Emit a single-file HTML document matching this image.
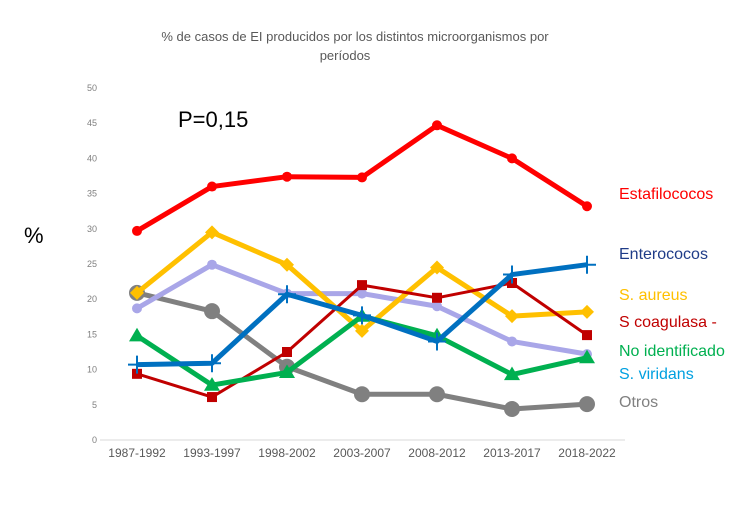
<!DOCTYPE html>
<html><head><meta charset="utf-8"><style>
body{margin:0;background:#fff;width:750px;height:500px;overflow:hidden}
svg text{font-family:"Liberation Sans",sans-serif}
</style></head><body>
<svg id="c" width="750" height="500">
<text x="355" y="41" text-anchor="middle" font-size="13" fill="#595959">% de casos de EI producidos por los distintos microorganismos por</text>
<text x="345" y="60" text-anchor="middle" font-size="13" fill="#595959">períodos</text>
<text x="24" y="243" font-size="22" fill="#000">%</text>
<text x="178" y="127" font-size="22" fill="#000">P=0,15</text>
<g id="axes"></g><g id="series"></g><g id="labels"></g>
</svg>
<script>
const categories=["1987-1992","1993-1997","1998-2002","2003-2007","2008-2012","2013-2017","2018-2022"];
const yTicks=[0,5,10,15,20,25,30,35,40,45,50];
const estafilococos=[29.7,36,37.4,37.3,44.7,40,33.2];
const sAureus=[20.9,29.5,24.9,15.5,24.5,17.6,18.2];
const sViridansLav=[18.7,24.9,20.8,20.8,19,14,12.2];
const otros=[20.9,18.3,10.4,6.5,6.5,4.4,5.1];
const enterococos=[10.7,10.9,20.7,17.7,14,23.5,24.9];
const sCoagulasa=[9.4,6.1,12.5,22,20.2,22.3,14.9];
const noIdentificado=[14.8,7.8,9.6,17.6,14.8,9.3,11.7];
const NS="http://www.w3.org/2000/svg";
const x=i=>137+i*75, y=v=>440-v*7.04;
function mk(t,a,p){const e=document.createElementNS(NS,t);for(const k in a)e.setAttribute(k,a[k]);p.appendChild(e);return e;}
const ax=document.getElementById('axes');
const base=mk('line',{x1:100,x2:625,y1:y(0),y2:y(0),stroke:'#d9d9d9'},ax);


yTicks.forEach(t=>{const e=mk('text',{x:97,y:y(t)+3,'text-anchor':'end','font-size':9,fill:'#7f7f7f'},ax);e.textContent=t;

});
categories.forEach((c,i)=>{const e=mk('text',{x:x(i),y:457,'text-anchor':'middle','font-size':12,fill:'#595959'},ax);e.textContent=c;

});
const S=[
{d:otros,c:'#808080',w:5,m:'circle',r:8,n:'otros'},
{d:sViridansLav,c:'#a9a6e8',w:5,m:'circle',r:5,n:'s-viridans'},
{d:sAureus,c:'#ffc000',w:5,m:'diamond',r:7,n:'s-aureus'},
{d:sCoagulasa,c:'#c00000',w:3,m:'square',r:5,n:'s-coagulasa'},
{d:noIdentificado,c:'#00b050',w:5,m:'triangle',r:8,n:'no-identificado'},
{d:enterococos,c:'#0070c0',w:5,m:'plus',r:9,n:'enterococos'},
{d:estafilococos,c:'#ff0000',w:5,m:'circle',r:5,n:'estafilococos'}];
const sg=document.getElementById('series');
S.forEach(s=>{const g=mk('g',{},sg);


mk('polyline',{points:s.d.map((v,i)=>x(i)+','+y(v)).join(' '),fill:'none',stroke:s.c,'stroke-width':s.w,'stroke-linejoin':'round'},g);
s.d.forEach((v,i)=>{const cx=x(i),cy=y(v),r=s.r;let e;
if(s.m=='circle')e=mk('circle',{cx,cy,r,fill:s.c},g);
else if(s.m=='square')e=mk('rect',{x:cx-r,y:cy-r,width:2*r,height:2*r,fill:s.c},g);
else if(s.m=='diamond')e=mk('polygon',{points:`${cx},${cy-r} ${cx+r},${cy} ${cx},${cy+r} ${cx-r},${cy}`,fill:s.c},g);
else if(s.m=='triangle')e=mk('polygon',{points:`${cx},${cy-r} ${cx+r},${cy+r*0.7} ${cx-r},${cy+r*0.7}`,fill:s.c},g);
else e=mk('path',{d:`M${cx-r},${cy}H${cx+r}M${cx},${cy-r}V${cy+r}`,stroke:s.c,'stroke-width':2},g);

});});
const L=[["Estafilococos",'#ff0000',199],["Enterococos",'#1f3c88',259],["S. aureus",'#ffc000',300],["S coagulasa -",'#c00000',327],["No identificado",'#00b050',356],["S. viridans",'#00a0e0',379],["Otros",'#808080',407]];
const lg=document.getElementById('labels');
L.forEach(l=>{const e=mk('text',{x:619,y:l[2],'font-size':16,fill:l[1]},lg);e.textContent=l[0];

});
</script>
</body></html>
